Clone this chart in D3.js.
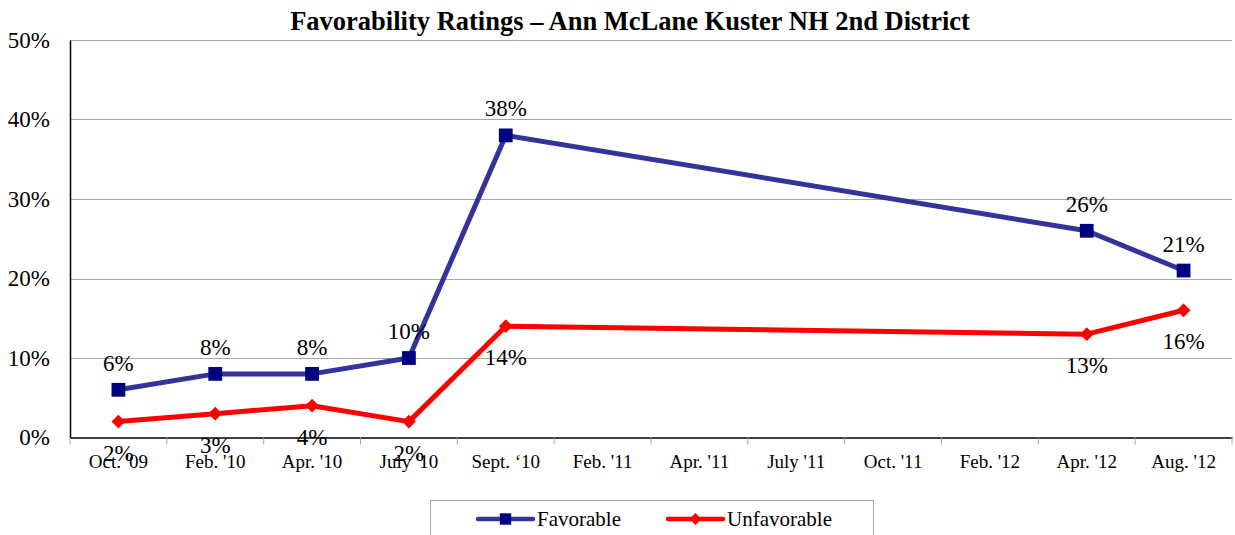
<!DOCTYPE html>
<html>
<head>
<meta charset="utf-8">
<script src="https://cdn.jsdelivr.net/npm/d3@7/dist/d3.min.js"></script>
<style>
  html, body { margin: 0; padding: 0; background: #fff; }
  svg { display: block; }
  svg text { font-family: "Liberation Serif", "Times New Roman", serif; }
</style>
</head>
<body>
<div id="chart"></div>
<script>
// data
const categories = ["Oct. '09", "Feb. '10", "Apr. '10", "July '10", "Sept. \u201810", "Feb. '11",
  "Apr. '11", "July '11", "Oct. '11", "Feb. '12", "Apr. '12", "Aug. '12"];
const favorable = [6, 8, 8, 10, 38, null, null, null, null, null, 26, 21];
const unfavorable = [2, 3, 4, 2, 14, null, null, null, null, null, 13, 16];
const yTicks = [0, 10, 20, 30, 40, 50];

const width = 1235, height = 535;
const margin = { left: 70, right: 3, top: 40, bottom: 97 };
const serif = "Liberation Serif";

const svg = d3.select("#chart").append("svg")
  .attr("width", width).attr("height", height)
  .attr("font-family", serif);

const x = d3.scaleBand().domain(categories)
  .range([margin.left, width - margin.right]);
const y = d3.scaleLinear().domain([0, 50])
  .range([height - margin.bottom - 0.5, margin.top]);

// title
svg.append("text")
  .attr("x", 630).attr("y", 30)
  .attr("text-anchor", "middle")
  .attr("font-size", 26.5).attr("font-weight", "bold")
  .text("Favorability Ratings \u2013 Ann McLane Kuster NH 2nd District");

// gridlines
svg.append("g").selectAll("line").data(yTicks.filter(d => d > 0)).enter().append("line")
  .attr("x1", margin.left).attr("x2", width - margin.right)
  .attr("y1", d => Math.round(y(d)) + 0.5).attr("y2", d => Math.round(y(d)) + 0.5)
  .attr("stroke", "#a6a6a6").attr("stroke-width", 1);

// y axis
const yAxis = svg.append("g")
  .attr("transform", `translate(${margin.left},0)`)
  .call(d3.axisLeft(y).tickValues(yTicks).tickFormat(d => d + "%").tickSize(0).tickPadding(20));
yAxis.attr("font-family", serif);
yAxis.select(".domain").attr("stroke", "#000").attr("stroke-width", 1.5);
yAxis.selectAll("text").attr("font-size", 23).attr("fill", "#000");

// x axis
const xAxis = svg.append("g")
  .attr("transform", `translate(0,${y(0)})`)
  .call(d3.axisBottom(x).tickSize(0).tickPadding(17));
xAxis.attr("font-family", serif);
xAxis.select(".domain").attr("stroke", "#000").attr("stroke-width", 1.5);
xAxis.selectAll("text").attr("font-size", 19).attr("fill", "#000");

// tick marks on band boundaries
const bounds = categories.map(c => x(c)).concat([x(categories[categories.length - 1]) + x.bandwidth()]);
svg.append("g").selectAll("line").data(bounds).enter().append("line")
  .attr("x1", d => d).attr("x2", d => d)
  .attr("y1", y(0)).attr("y2", y(0) + 7)
  .attr("stroke", "#a6a6a6").attr("stroke-width", 1);

const cx = c => x(c) + x.bandwidth() / 2;

// rotation: 0 for square, 45 for the Excel-style diamond
function drawSeries(values, color, markerColor, size, rot, labelDy) {
  const pts = categories.map((c, i) => ({ c, v: values[i] })).filter(d => d.v !== null);
  const line = d3.line().x(d => cx(d.c)).y(d => y(d.v));
  svg.append("path").datum(pts)
    .attr("d", line).attr("fill", "none")
    .attr("stroke", color).attr("stroke-width", 5)
    .attr("stroke-linejoin", "round");
  svg.append("g").selectAll("path").data(pts).enter().append("path")
    .attr("transform", d => `translate(${cx(d.c)},${y(d.v)}) rotate(${rot})`)
    .attr("d", d3.symbol().type(d3.symbolSquare).size(size))
    .attr("fill", markerColor);
  svg.append("g").selectAll("text").data(pts).enter().append("text")
    .attr("x", d => cx(d.c)).attr("y", d => y(d.v) + labelDy)
    .attr("text-anchor", "middle").attr("font-size", 23)
    .text(d => d.v + "%");
}

drawSeries(favorable, "#333399", "#000080", 190, 0, -19);
drawSeries(unfavorable, "#ff0000", "#ff0000", 95, 45, 39);

// legend
const lg = svg.append("g");
lg.append("rect").attr("x", 430.5).attr("y", 500.5).attr("width", 443).attr("height", 40)
  .attr("fill", "#fff").attr("stroke", "#a6a6a6");
const legendItems = [
  { name: "Favorable", color: "#333399", marker: "#000080", size: 130, rot: 0, x: 478 },
  { name: "Unfavorable", color: "#ff0000", marker: "#ff0000", size: 70, rot: 45, x: 668 }
];
legendItems.forEach(it => {
  lg.append("line").attr("x1", it.x).attr("x2", it.x + 55).attr("y1", 519).attr("y2", 519)
    .attr("stroke", it.color).attr("stroke-width", 4.5).attr("stroke-linecap", "round");
  lg.append("path").attr("transform", `translate(${it.x + 27.5},519) rotate(${it.rot})`)
    .attr("d", d3.symbol().type(d3.symbolSquare).size(it.size)).attr("fill", it.marker);
  lg.append("text").attr("x", it.x + 59).attr("y", 526).attr("font-size", 21).text(it.name);
});
</script>
</body>
</html>
